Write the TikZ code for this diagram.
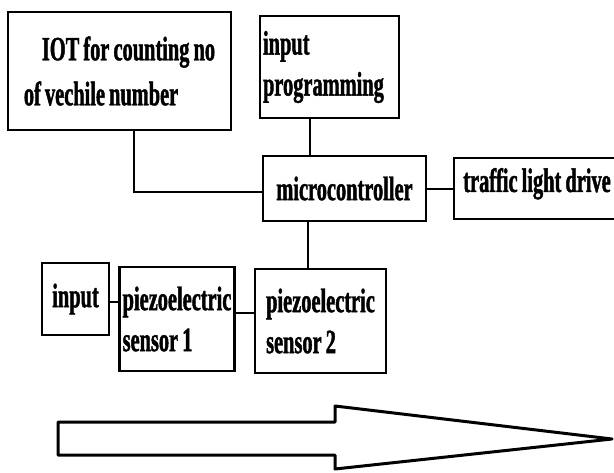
\documentclass[tikz,border=0pt]{standalone}
\usepackage{fontspec}
\newfontfamily\blkfont[FakeStretch=0.6,FakeBold=1.2,WordSpace=0.8]{Liberation Serif Bold}
\usetikzlibrary{calc,positioning}

\begin{document}
\begin{tikzpicture}[x=1pt,y=-1pt,blk/.style={rectangle,draw,line width=2.7pt,inner sep=3pt,align=left,
        font=\blkfont\fontsize{34}{41}\selectfont},every node/.append style={blk}]
  \useasboundingbox (0,0) rectangle (614,472);
  \clip (0,0) rectangle (614,472);
         \path (119.5,71) node[minimum width=223,minimum height=118,font=\blkfont\fontsize{34}{45}\selectfont] (iot) {\hspace*{18pt}IOT for counting no\\of vechile number}
         -- ++(210,-4) node[minimum width=139,minimum height=102,text width=133] (inprog) {input\\programming}
         -- ++(15,121.5) node[minimum width=163,minimum height=65,align=center] (micro) {microcontroller}
         -- ++(192.5,0) node[minimum width=166,minimum height=61,text depth=17pt] (traffic) {traffic light drive}
         -- ++(-216.5,132.5) node[minimum width=131,minimum height=104] (piezo2) {piezoelectric\\sensor 2}
         -- ++(-143.5,-2) node[minimum width=114,minimum height=104] (piezo1) {piezoelectric\\sensor 1}
         -- ++(-101.5,-20) node[minimum width=67,minimum height=72] (input) {input};
         \draw[line width=2pt] ([xshift=14.5pt]iot.south) |- ([yshift=-3.5pt]micro.west)
         ([xshift=-19.5pt]inprog.south) -- ([xshift=-19.5pt]inprog.south |- micro.north)
         (micro) -- (traffic)
         ([xshift=-36.5pt]micro.south) -- ([xshift=-36.5pt]micro.south |- piezo2.north)
         ([yshift=-3pt]input.east) -- ([yshift=-3pt]input.east -| piezo1.west)
         ([yshift=6pt]piezo1.east) -- ([yshift=6pt]piezo1.east -| piezo2.west);
         \draw[line width=3pt,line join=round] (58,422) -- (335,422) -- (335,406) -- (612,439)
         -- (335,469) -- (335,455) -- (58,455) -- cycle;
    \end{tikzpicture}
\end{document}
